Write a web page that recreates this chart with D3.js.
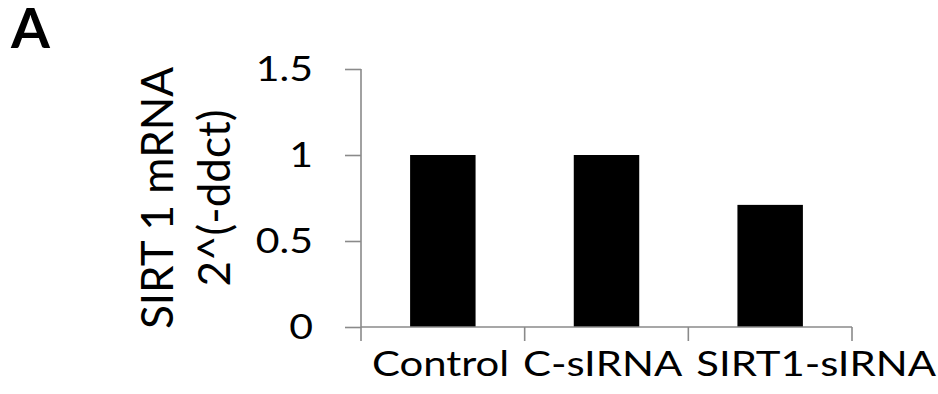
<!DOCTYPE html>
<html>
<head>
<meta charset="utf-8">
<script src="https://cdn.jsdelivr.net/npm/d3@7"></script>
<style>
  body { margin: 0; background: #fff; }
  text { font-family: Lato, "Open Sans", sans-serif; fill: #000; }
</style>
</head>
<body>
<script>
// data
var categories = ["Control", "C-sIRNA", "SIRT1-sIRNA"];
var values = [1.0, 1.0, 0.71];
var yticks = [0, 0.5, 1, 1.5];

var W = 938, H = 394;
var margin = {top: 69, right: 86, bottom: 67, left: 361},
    width = W - margin.left - margin.right,
    height = H - margin.top - margin.bottom;

var axisColor = "#8a8a8a";
// the source picture is a bit stretched sideways, so text is widened to match
var tickStretch = 1.17, catStretch = 1.23;

var svg = d3.select("body")
    .append("svg")
        .attr("width", W)
        .attr("height", H);

var g = svg.append("g")
    .attr("transform", "translate(" + margin.left + "," + margin.top + ")");

// scales
var x = d3.scaleBand()
    .domain(categories)
    .range([0, width])
    .paddingInner(0.6)
    .paddingOuter(0.3);

var y = d3.scaleLinear().domain([0, 1.5]).range([height, 0]);

// bars
g.append("g")
    .selectAll("rect")
    .data(values)
    .enter()
    .append("rect")
        .attr("x", function(d, i) { return x(categories[i]); })
        .attr("y", function(d) { return y(d); })
        .attr("width", x.bandwidth())
        .attr("height", function(d) { return y(0) - y(d); })
        .style("fill", "#000");

// y axis
var yAxis = d3.axisLeft(y)
    .tickValues(yticks)
    .tickFormat(function(d) { return d; })
    .tickSize(16)
    .tickSizeOuter(0)
    .tickPadding(32);

var ya = g.append("g").call(yAxis);
ya.select(".domain").remove();
ya.selectAll("line").attr("stroke", axisColor).attr("stroke-width", 1.6);
ya.selectAll("text")
    .attr("x", 0)
    .attr("transform", "translate(-48,0) scale(" + tickStretch + ",1)")
    .style("font-size", "35px")
    .style("font-family", "Lato, sans-serif")
    .attr("fill", "#000");

var tickLen = 14;
// vertical axis line, runs a little below zero like the category ticks
g.append("line")
    .attr("x1", 0).attr("x2", 0)
    .attr("y1", y(1.5)).attr("y2", y(0) + tickLen)
    .attr("stroke", axisColor).attr("stroke-width", 1.6);

// x axis line and boundary ticks
g.append("line")
    .attr("x1", 0).attr("x2", width)
    .attr("y1", y(0)).attr("y2", y(0))
    .attr("stroke", axisColor).attr("stroke-width", 1.6);

var bounds = d3.range(categories.length + 1).map(function(i) {
    return x(categories[0]) - x.step() * x.paddingOuter() + i * x.step();
});
g.append("g")
    .selectAll("line")
    .data(bounds.slice(1))
    .enter()
    .append("line")
        .attr("x1", function(d) { return d; })
        .attr("x2", function(d) { return d; })
        .attr("y1", y(0))
        .attr("y2", y(0) + tickLen)
        .attr("stroke", axisColor).attr("stroke-width", 1.6);

// category labels: centred on their bars, pushed right when they collide,
// then pulled back in if the last one runs past the edge
var labelY = y(0) + 49;
var labels = g.append("g")
    .selectAll("text")
    .data(categories)
    .enter()
    .append("text")
        .attr("x", 0)
        .attr("y", 0)
        .style("font-size", "34px")
        .style("text-anchor", "middle")
        .text(function(d) { return d; });

var boxes = [];
labels.each(function(d) {
    var w = this.getComputedTextLength() * catStretch;
    boxes.push({c: x(d) + x.bandwidth() / 2, w: w});
});
var gap = 14, rightLimit = W - 2 - margin.left;
for (var i = 1; i < boxes.length; i++) {
    var a = boxes[i - 1], b = boxes[i];
    var over = (a.c + a.w / 2 + gap) - (b.c - b.w / 2);
    if (over > 0) b.c += over;
}
var last = boxes[boxes.length - 1];
var spill = last.c + last.w / 2 - rightLimit;
if (spill > 0) {
    last.c -= spill;
    for (var j = boxes.length - 2; j >= 0; j--) {
        var over2 = (boxes[j].c + boxes[j].w / 2 + gap) - (boxes[j + 1].c - boxes[j + 1].w / 2);
        if (over2 > 0) boxes[j].c -= over2;
    }
}
labels.attr("transform", function(d, i) {
    return "translate(" + boxes[i].c + "," + labelY + ") scale(" + catStretch + ",1)";
});

// y axis title
svg.append("text")
    .attr("transform", "translate(173," + (margin.top + height / 2) + ") rotate(-90)")
    .style("text-anchor", "middle")
    .style("font-size", "44px")
    .call(function(t) {
        t.append("tspan").attr("x", 0).attr("dy", 0).text("SIRT 1 mRNA");
        t.append("tspan").attr("x", 0).attr("dy", 57).text("2^(-ddct)");
    });

// panel letter
svg.append("text")
    .attr("x", 11)
    .attr("y", 48)
    .style("font-size", "56px")
    .style("font-weight", "bold")
    .text("A");
</script>
</body>
</html>
